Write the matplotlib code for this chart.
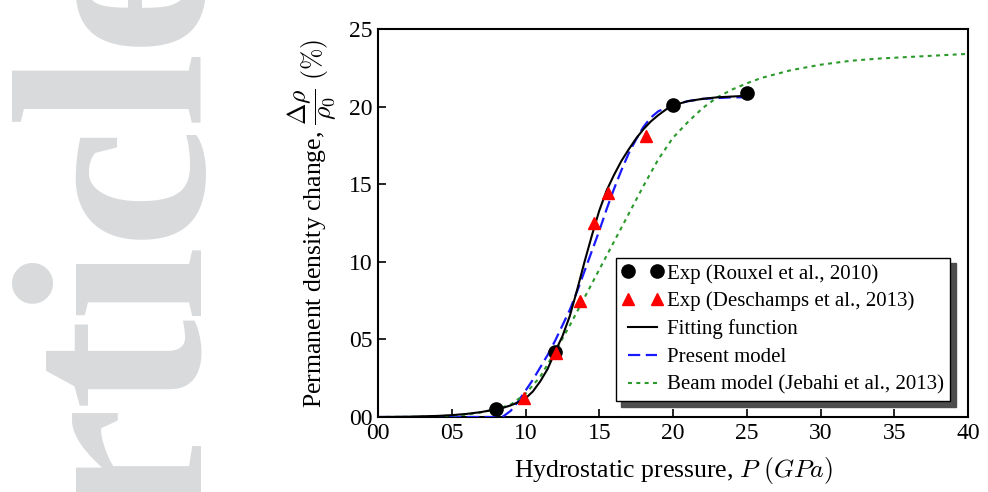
import matplotlib
matplotlib.use("Agg")
import matplotlib.pyplot as plt

# experimental points
rouxel_p = [8, 12, 20, 25]
rouxel_d = [0.5, 4.2, 20.1, 20.9]

desch_p = [9.9, 12.1, 13.7, 14.65, 15.6, 18.2]
desch_d = [1.2, 4.1, 7.45, 12.5, 14.45, 18.1]

# fitting function
fit_p = [0, 2, 4, 5, 6, 7, 8, 8.5, 9, 9.5, 10, 10.5, 11, 11.5, 12, 12.5, 13, 13.5,
         14, 14.5, 15, 15.5, 16, 16.5, 17, 17.5, 18, 18.5, 19, 19.5, 20, 21, 22, 23, 24, 25]
fit_d = [0, 0.02, 0.07, 0.12, 0.2, 0.32, 0.5, 0.6, 0.75, 0.95, 1.2, 1.65, 2.3, 3.1, 4.2,
         5.2, 6.5, 8.2, 10.0, 11.7, 13.3, 14.6, 15.6, 16.5, 17.25, 17.95, 18.55, 19.05,
         19.45, 19.8, 20.08, 20.35, 20.5, 20.6, 20.65, 20.7]

# present model
model_p = [0, 4, 8, 8.5, 9, 9.5, 10, 10.5, 11, 11.5, 12, 12.5, 13, 13.5, 14, 14.5, 15,
           15.5, 16, 16.5, 17, 17.5, 18, 18.5, 19, 20, 21, 22, 23, 24, 25]
model_d = [0, 0, 0, 0.05, 0.4, 1.0, 1.7, 2.4, 3.2, 4.0, 4.9, 5.9, 6.9, 8.1, 9.4, 10.7,
           12.0, 13.4, 14.7, 15.9, 17.0, 17.9, 18.7, 19.3, 19.7, 20.1, 20.35, 20.5,
           20.55, 20.6, 20.6]

# beam model (Jebahi et al., 2013)
beam_p = [0, 2, 4, 6, 7, 8, 9, 10, 11, 12, 13, 14, 15, 16, 17, 18, 19, 20, 21, 22, 23,
          24, 25, 26, 28, 30, 32, 34, 36, 38, 40]
beam_d = [0, 0.01, 0.04, 0.15, 0.3, 0.5, 0.8, 1.5, 2.6, 4.2, 5.9, 7.7, 9.5, 11.3, 13.1,
          14.9, 16.6, 18.0, 19.0, 19.9, 20.6, 21.1, 21.5, 21.85, 22.35, 22.7, 22.95,
          23.1, 23.2, 23.3, 23.4]

x_ticks = [0, 5, 10, 15, 20, 25, 30, 35, 40]
y_ticks = [0, 5, 10, 15, 20, 25]

# watermark letters and where their centres sit (figure fraction, from the bottom)
wm_letters = ['r', 't', 'i', 'c', 'l', 'e']
wm_ypos = [0.065, 0.268, 0.437, 0.636, 0.828, 1.03]

plt.rcParams['font.family'] = ['Liberation Serif', 'DejaVu Serif']
plt.rcParams['mathtext.fontset'] = 'cm'

fig = plt.figure(figsize=(9.88, 4.92), dpi=100)

for ch, yp in zip(wm_letters, wm_ypos):
    fig.text(0.197, yp, ch, rotation=90, rotation_mode='anchor',
             ha='center', va='baseline', fontsize=196, fontweight='bold',
             color='#d8dadb', zorder=0)

ax = fig.add_axes([0.3826, 0.1524, 0.5972, 0.7886])

ax.plot(rouxel_p, rouxel_d, 'o', color='black', markersize=9.5,
        label='Exp (Rouxel et al., 2010)', zorder=5)
ax.plot(desch_p, desch_d, '^', color='red', markersize=8.5,
        label='Exp (Deschamps et al., 2013)', zorder=5)
ax.plot(fit_p, fit_d, '-', color='black', lw=1.5, label='Fitting function', zorder=4)
ax.plot(model_p, model_d, '--', color='#1a1aff', lw=1.6, dashes=(5.5, 2.5),
        label='Present model', zorder=3)
ax.plot(beam_p, beam_d, color='#2a9a2a', lw=1.5, dashes=(1.9, 2.1),
        label='Beam model (Jebahi et al., 2013)', zorder=3)

ax.set_xlim(0, 40)
ax.set_ylim(0, 25)
ax.set_xticks(x_ticks)
ax.set_yticks(y_ticks)
ax.set_xticklabels(['%02d' % v for v in x_ticks])
ax.set_yticklabels(['%02d' % v for v in y_ticks])
ax.tick_params(direction='in', length=6, width=1.2, labelsize=17, pad=4)

for s in ax.spines.values():
    s.set_linewidth(1.5)

ax.set_xlabel(r'Hydrostatic pressure, $P\ (GPa)$', fontsize=18.5, labelpad=8)
ax.set_ylabel(r'Permanent density change, $\dfrac{\Delta\rho}{\rho_0}\ (\%)$',
              fontsize=18.5, labelpad=8)

leg = ax.legend(loc='lower right', bbox_to_anchor=(0.9695, 0.041), borderaxespad=0,
                numpoints=2, fontsize=15, fancybox=False, edgecolor='black',
                framealpha=1, shadow={'ox': 4, 'oy': -4, 'color': '0.3', 'alpha': 1},
                handlelength=2.0, handletextpad=0.15, labelspacing=0.39, borderpad=0.3)
leg.get_frame().set_linewidth(1.0)

fig.savefig('out.png', dpi=100)
